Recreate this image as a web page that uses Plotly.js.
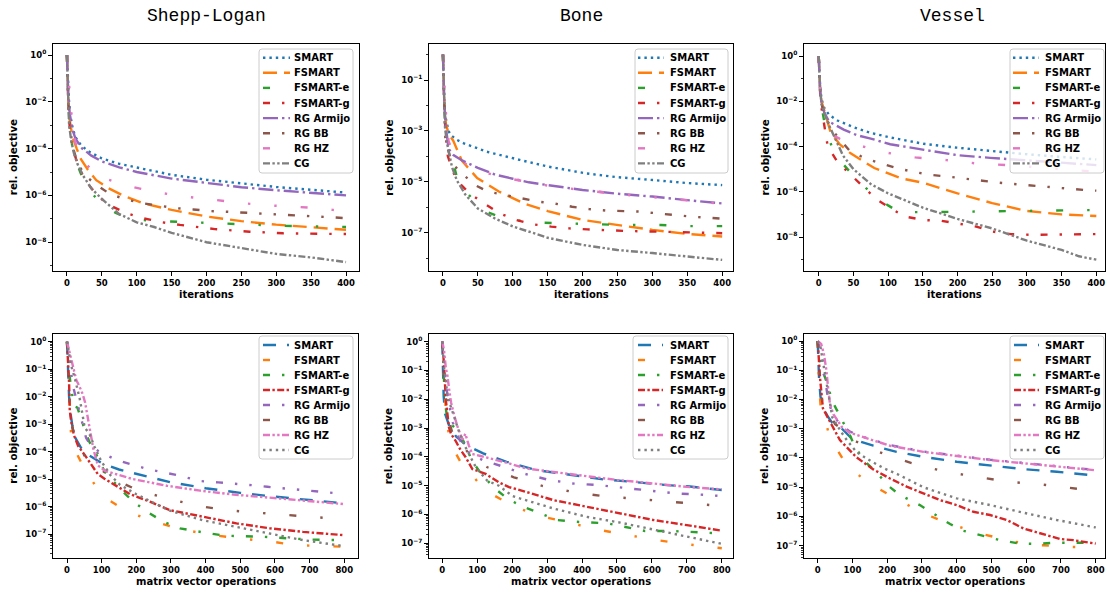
<!DOCTYPE html>
<html><head><meta charset="utf-8">
<script src="https://cdn.plot.ly/plotly-3.0.1.min.js"></script>
<style>html,body{margin:0;padding:0;background:#fff}#chart{width:1107px;height:592px}</style>
</head><body><div id="chart"></div>
<script>
// ---------------- labels ----------------
const methodNames = ['SMART','FSMART','FSMART-e','FSMART-g','RG Armijo','RG BB','RG HZ','CG'];
const methodColors = ['#1f77b4','#ff7f0e','#2ca02c','#d62728','#9467bd','#8c564b','#e377c2','#7f7f7f'];
const panelTitles = ['Shepp-Logan','Bone','Vessel'];
const iterTicks = [0,50,100,150,200,250,300,350,400];
const mvTicks = [0,100,200,300,400,500,600,700,800];

// ---------------- data: x and log10(rel. objective) ----------------
// Shepp-Logan, iterations
const slItSMART_x = [0,1,2,3,5,8,12,20,30,50,75,100,150,200,250,300,350,400];
const slItSMART_lg = [0,-1.0,-1.6,-2.0,-2.6,-3.1,-3.5,-3.85,-4.1,-4.42,-4.65,-4.8,-5.12,-5.33,-5.5,-5.64,-5.76,-5.88];
const slItFSMART_x = [0,1,2,4,8,14,20,30,42,60,80,110,150,200,250,300,350,400];
const slItFSMART_lg = [0,-1.2,-2.0,-2.8,-3.5,-4.0,-4.45,-4.9,-5.35,-5.7,-6.0,-6.35,-6.62,-6.9,-7.1,-7.25,-7.37,-7.47];
const slItFSMARTe_x = [0,1,2,4,8,15,23,35,50,70,88,120,176,219,262,310,350,400];
const slItFSMARTe_lg = [0,-1.3,-2.1,-3.0,-4.0,-4.7,-5.3,-5.9,-6.35,-6.75,-6.98,-7.08,-7.15,-7.19,-7.26,-7.3,-7.32,-7.35];
const slItFSMARTg_x = [0,1,2,4,8,16,25,43,60,86,110,137,162,212,262,310,360,400];
const slItFSMARTg_lg = [0,-1.4,-2.2,-3.1,-4.0,-4.7,-5.3,-6.0,-6.4,-6.77,-6.98,-7.15,-7.26,-7.44,-7.55,-7.62,-7.64,-7.65];
const slItArmijo_x = [0,1,2,4,8,12,20,35,50,75,100,150,200,250,300,350,400];
const slItArmijo_lg = [0,-1.2,-1.8,-2.5,-3.2,-3.55,-3.95,-4.3,-4.55,-4.8,-5.0,-5.28,-5.48,-5.65,-5.78,-5.9,-6.0];
const slItBB_x = [0,1,2,4,8,15,26,43,62,88,110,133,157,181,205,231,255,281,327,352,377,400];
const slItBB_lg = [0,-1.3,-2.1,-3.0,-3.9,-4.6,-5.16,-5.56,-5.95,-6.2,-6.34,-6.44,-6.55,-6.6,-6.67,-6.7,-6.74,-6.8,-6.87,-6.9,-6.95,-6.97];
const slItHZ_x = [0,2,5,8,15,25,46,88,129,169,215,254,298,347,381,400];
const slItHZ_lg = [0,-1.0,-1.85,-3.2,-4.1,-4.6,-5.2,-5.6,-5.87,-6.05,-6.2,-6.34,-6.44,-6.52,-6.62,-6.65];
const slItCG_x = [0,1,2,3,6,10,15,23,35,50,75,100,125,150,200,250,300,350,400];
const slItCG_lg = [0,-1.5,-2.3,-2.95,-3.66,-4.2,-4.65,-5.15,-5.7,-6.15,-6.8,-7.15,-7.35,-7.6,-8.0,-8.25,-8.5,-8.65,-8.85];

// Bone, iterations
const boItSMART_x = [0,1,2,4,8,11,20,30,63,110,150,205,250,301,350,400];
const boItSMART_lg = [0,-1.2,-1.9,-2.5,-3.0,-3.16,-3.35,-3.49,-3.82,-4.14,-4.4,-4.67,-4.82,-4.93,-5.05,-5.13];
const boItFSMART_x = [0,1,2,4,8,15,27,49,80,116,150,200,250,300,350,400];
const boItFSMART_lg = [0,-1.2,-2.0,-2.7,-3.1,-3.4,-4.17,-4.85,-5.38,-5.85,-6.15,-6.5,-6.7,-6.89,-7.05,-7.15];
const boItFSMARTe_x = [0,1,2,4,10,21,35,47,65,85,128,174,219,260,312,350,400];
const boItFSMARTe_lg = [0,-1.3,-2.1,-3.0,-3.75,-4.93,-5.45,-5.81,-6.2,-6.43,-6.6,-6.63,-6.67,-6.7,-6.7,-6.74,-6.74];
const boItFSMARTg_x = [0,1,2,4,7,19,38,60,81,105,129,155,181,207,260,330,400];
const boItFSMARTg_lg = [0,-1.3,-2.2,-3.2,-4.0,-4.93,-5.45,-5.87,-6.24,-6.5,-6.67,-6.76,-6.83,-6.87,-6.93,-6.97,-7.02];
const boItArmijo_x = [0,1,2,4,8,15,28,50,75,100,123,150,200,250,300,350,400];
const boItArmijo_lg = [0,-1.2,-2.0,-2.8,-3.7,-3.95,-4.17,-4.45,-4.72,-4.88,-5.02,-5.13,-5.32,-5.47,-5.58,-5.72,-5.85];
const boItBB_x = [0,1,3.5,13,27,46,65,89,113,137,159,185,209,233,281,305,356,400];
const boItBB_lg = [0,-1.3,-3.4,-4.27,-4.67,-5.13,-5.39,-5.52,-5.65,-5.78,-5.85,-5.98,-6.07,-6.13,-6.17,-6.24,-6.37,-6.45];
const boItHZ_x = [0,2,4,8,15,30,50,75,100,150,200,250,300,350,400];
const boItHZ_lg = [0,-1.0,-2.2,-3.4,-3.9,-4.25,-4.55,-4.75,-4.9,-5.15,-5.33,-5.48,-5.6,-5.73,-5.87];
const boItCG_x = [0,1,2,3,6,13,20,32,50,75,100,150,200,250,300,350,400];
const boItCG_lg = [0,-1.2,-2.2,-2.9,-3.5,-4.43,-4.95,-5.5,-6.05,-6.45,-6.75,-7.2,-7.48,-7.68,-7.8,-7.94,-8.07];

// Vessel, iterations
const veItSMART_x = [0,1,2,4,8,15,27,55,75,103,151,199,247,295,345,400];
const veItSMART_lg = [0,-0.8,-1.3,-1.9,-2.3,-2.6,-2.85,-3.2,-3.4,-3.6,-3.88,-4.05,-4.2,-4.33,-4.45,-4.57];
const veItFSMART_x = [0,1,2,4,8,17,30,46,80,118,150,200,250,300,350,400];
const veItFSMART_lg = [0,-0.9,-1.5,-2.0,-2.4,-3.35,-3.9,-4.3,-4.95,-5.4,-5.6,-6.07,-6.5,-6.85,-7.0,-7.07];
const veItFSMARTe_x = [0,1,2,4,8,19.6,30,45,60,78,100,116,157,203,247,295,339,382,400];
const veItFSMARTe_lg = [0,-0.9,-1.5,-2.2,-2.9,-4.1,-4.6,-5.12,-5.6,-6.14,-6.6,-6.9,-6.9,-6.88,-6.84,-6.82,-6.81,-6.81,-6.81];
const veItFSMARTg_x = [0,1,2,4,8,13,27,46,65,84,106,125,152,176,227,251,277,304,340,380,400];
const veItFSMARTg_lg = [0,-1.0,-1.6,-2.3,-3.0,-4.0,-4.68,-5.26,-5.8,-6.35,-6.78,-7.1,-7.25,-7.28,-7.54,-7.76,-7.87,-7.9,-7.88,-7.87,-7.87];
const veItArmijo_x = [0,1,2,4,8,15,36,55,75,103,151,199,247,295,345,400];
const veItArmijo_lg = [0,-0.9,-1.5,-2.1,-2.5,-2.9,-3.25,-3.5,-3.65,-3.9,-4.15,-4.38,-4.5,-4.6,-4.7,-4.82];
const veItBB_x = [0,1,2,4,8,20,44,67,88,113,140,164,186,212,236,260,286,310,334,360,382,400];
const veItBB_lg = [0,-0.9,-1.5,-2.1,-2.6,-3.3,-4.17,-4.53,-4.74,-4.96,-5.14,-5.26,-5.33,-5.41,-5.51,-5.6,-5.67,-5.74,-5.78,-5.88,-5.92,-5.95];
const veItHZ_x = [0,2,5,8,11,20,30,52,94,139,184,225,271,345,400];
const veItHZ_lg = [0,-1.38,-2.0,-2.27,-3.2,-3.5,-3.65,-3.9,-4.25,-4.48,-4.6,-4.74,-4.82,-5.0,-5.11];
const veItCG_x = [0,1,2,4,8,12,20,27,35,50,75,100,123,150,200,250,300,350,375,400];
const veItCG_lg = [0,-0.9,-1.5,-2.1,-2.5,-2.86,-3.4,-3.89,-4.4,-5.0,-5.66,-6.07,-6.35,-6.7,-7.2,-7.62,-8.16,-8.57,-8.85,-9.0];

// Shepp-Logan, matrix vector operations
const slMvSMART_x = [0,2,4,6,10,16,24,40,60,100,150,200,300,400,500,600,700,800];
const slMvSMART_lg = [0,-1.0,-1.6,-2.0,-2.6,-3.1,-3.5,-3.85,-4.1,-4.42,-4.65,-4.8,-5.12,-5.33,-5.5,-5.64,-5.76,-5.88];
const slMvFSMART_x = [0,4,8,12,25,41,51,70,91,125,157,171,200,243,330,422,500,594,655,744,800];
const slMvFSMART_lg = [0,-1.0,-2.5,-3.48,-4.0,-4.39,-4.63,-5.0,-5.42,-5.8,-6.03,-6.15,-6.3,-6.51,-6.83,-7.04,-7.16,-7.28,-7.4,-7.44,-7.46];
const slMvFSMARTe_x = [0,5,10,20,30,42,51,65,75,94,110,128,157,191,235,278,326,412,460,567,634,700,800];
const slMvFSMARTe_lg = [0,-1.0,-1.5,-2.35,-2.4,-2.9,-3.2,-3.66,-3.84,-4.36,-4.75,-5.0,-5.4,-5.82,-6.22,-6.55,-6.79,-6.98,-7.06,-7.1,-7.16,-7.2,-7.22];
const slMvFSMARTg_x = [0,3,6,8,12,20,32,56,89,110,133,152,181,239,297,393,489,585,681,800];
const slMvFSMARTg_lg = [0,-0.6,-1.5,-2.5,-2.9,-3.4,-3.79,-4.21,-4.82,-5.0,-5.18,-5.3,-5.54,-5.82,-6.13,-6.37,-6.61,-6.79,-6.92,-7.04];
const slMvArmijo_x = [0,8,15,25,32,45,55,65,80,102,142,195,237,316,384,436,480,533,578,629,680,725,786,800];
const slMvArmijo_lg = [0,-0.6,-1.5,-2.0,-2.3,-3.0,-3.5,-3.7,-3.9,-4.06,-4.3,-4.5,-4.65,-4.85,-5.07,-5.12,-5.16,-5.22,-5.28,-5.34,-5.4,-5.46,-5.52,-5.54];
const slMvBB_x = [0,4,8,17,27,40,57,90,123,160,211,299,374,460,547,629,720,800];
const slMvBB_lg = [0,-1.2,-2.48,-3.18,-3.48,-3.9,-4.3,-4.6,-4.88,-5.15,-5.44,-5.73,-5.97,-6.13,-6.22,-6.31,-6.39,-6.45];
const slMvHZ_x = [0,10,18,27,35,45,52,60,66,72,76,89,110,150,190,288,384,480,576,672,800];
const slMvHZ_lg = [0,-0.5,-0.9,-1.4,-1.6,-1.9,-2.2,-2.8,-3.2,-3.6,-3.9,-4.5,-4.7,-4.85,-5.0,-5.24,-5.42,-5.56,-5.66,-5.77,-5.91];
const slMvCG_x = [0,12,22,32,37,44,51,65,80,99,125,152,200,248,297,393,489,585,681,800];
const slMvCG_lg = [0,-0.87,-1.3,-1.78,-2.09,-2.6,-3.12,-3.36,-3.84,-4.35,-4.85,-5.2,-5.55,-5.85,-6.15,-6.5,-6.73,-6.98,-7.22,-7.44];

// Bone, matrix vector operations
const boMvSMART_x = [0,2,4,8,16,22,40,70,117,184,270,366,461,557,643,709,786,800];
const boMvSMART_lg = [0,-1.2,-1.9,-2.5,-2.8,-3.0,-3.3,-3.6,-3.88,-4.17,-4.46,-4.63,-4.78,-4.88,-4.98,-5.03,-5.13,-5.15];
const boMvFSMART_x = [0,5,10,19,35,53,67,90,115,150,190,200,270,375,451,530,614,706,790,800];
const boMvFSMART_lg = [0,-1.5,-2.4,-3.26,-3.8,-4.19,-4.36,-4.7,-5.06,-5.35,-5.61,-5.69,-6.02,-6.33,-6.54,-6.71,-6.89,-7.04,-7.15,-7.17];
const boMvFSMARTe_x = [0,4,8,15,25,43,55,70,86,115,153,190,239,287,327,380,475,580,643,705,786,800];
const boMvFSMARTe_lg = [0,-1.2,-2.14,-2.72,-2.85,-3.09,-3.3,-3.7,-4.15,-4.65,-5.12,-5.48,-5.77,-5.99,-6.19,-6.25,-6.31,-6.57,-6.57,-6.6,-6.66,-6.66];
const boMvFSMARTg_x = [0,5,10,19,25,38,52,67,86,124,162,191,222,318,413,509,604,700,786,800];
const boMvFSMARTg_lg = [0,-0.8,-2.0,-2.97,-3.2,-3.44,-3.75,-4.01,-4.42,-4.59,-4.88,-5.05,-5.15,-5.5,-5.73,-5.96,-6.19,-6.37,-6.54,-6.56];
const boMvArmijo_x = [0,5,10,19,30,45,57,80,119,167,191,224,299,370,447,528,604,671,755,800];
const boMvArmijo_lg = [0,-0.8,-1.47,-2.16,-2.8,-3.3,-3.55,-3.9,-4.13,-4.31,-4.42,-4.55,-4.78,-4.92,-4.98,-5.09,-5.17,-5.27,-5.32,-5.36];
const boMvBB_x = [0,5,10,24,33,45,57,76,100,129,205,284,370,452,533,623,705,786,800];
const boMvBB_lg = [0,-0.9,-1.8,-2.97,-3.32,-3.4,-3.55,-3.9,-4.15,-4.36,-4.71,-5.0,-5.21,-5.35,-5.44,-5.53,-5.61,-5.69,-5.7];
const boMvHZ_x = [0,5,10,15,19,25,35,45,58,66,76,86,110,181,239,300,400,500,600,700,800];
const boMvHZ_lg = [0,-0.3,-0.9,-1.2,-1.6,-2.1,-2.6,-3.0,-3.4,-3.2,-3.6,-3.9,-3.97,-4.19,-4.4,-4.5,-4.65,-4.8,-4.92,-5.04,-5.13];
const boMvCG_x = [0,5,10,14,19,28,38,50,57,79,96,129,162,200,222,318,413,509,604,700,790,800];
const boMvCG_lg = [0,-0.9,-1.3,-1.8,-2.05,-2.4,-2.74,-3.2,-3.44,-3.95,-4.36,-4.83,-5.0,-5.35,-5.44,-5.79,-6.08,-6.28,-6.52,-6.77,-7.0,-7.02];

// Vessel, matrix vector operations
const veMvSMART_x = [0,2,4,8,16,30,42,64,95,112,160,227,304,400,496,592,688,784,800];
const veMvSMART_lg = [0,-0.8,-1.3,-1.9,-2.3,-2.6,-2.8,-2.93,-3.3,-3.4,-3.58,-3.79,-3.96,-4.13,-4.26,-4.38,-4.47,-4.58,-4.6];
const veMvFSMART_x = [0,3,9,20,32,50,77,110,143,190,227,299,381,467,563,640,727,774,800];
const veMvFSMART_lg = [0,-1.3,-2.33,-2.6,-3.18,-3.6,-4.12,-4.5,-4.84,-5.15,-5.38,-5.87,-6.26,-6.58,-6.86,-6.98,-7.04,-7.06,-7.07];
const veMvFSMARTe_x = [0,5,10,18,28,40,55,66,74,85,103,131,170,203,237,294,333,381,419,467,525,577,630,678,760,800];
const veMvFSMARTe_lg = [0,-0.6,-0.9,-1.13,-1.45,-2.0,-2.36,-2.56,-2.8,-3.01,-3.5,-4.07,-4.5,-4.95,-5.27,-5.61,-5.9,-6.26,-6.49,-6.64,-6.81,-6.92,-6.94,-6.9,-6.89,-6.9];
const veMvFSMARTg_x = [0,3,7,15,25,35,64,112,160,208,256,304,352,400,448,496,544,592,640,697,736,793,800];
const veMvFSMARTg_lg = [0,-0.7,-1.3,-2.3,-2.55,-2.75,-3.39,-3.98,-4.39,-4.7,-4.98,-5.21,-5.44,-5.61,-5.84,-5.95,-6.12,-6.41,-6.58,-6.77,-6.81,-6.92,-6.93];
const veMvArmijo_x = [0,5,10,15,20,25,30,40,55,70,93,141,208,304,400,496,592,688,793,800];
const veMvArmijo_lg = [0,-0.2,-0.5,-1.0,-1.3,-1.6,-2.0,-2.4,-2.7,-2.9,-3.1,-3.32,-3.56,-3.78,-3.92,-4.06,-4.17,-4.29,-4.4,-4.41];
const veMvBB_x = [0,5,13,23,35,50,80,105,141,218,294,381,467,544,640,721,798,800];
const veMvBB_lg = [0,-1.0,-2.1,-2.16,-2.5,-2.84,-3.1,-3.4,-3.63,-3.98,-4.26,-4.5,-4.66,-4.81,-4.9,-5.02,-5.12,-5.13];
const veMvHZ_x = [0,10,18,25,30,35,45,55,70,93,141,208,304,400,496,592,688,793,800];
const veMvHZ_lg = [0,-0.1,-0.45,-1.0,-1.6,-2.13,-2.5,-2.7,-2.95,-3.14,-3.33,-3.58,-3.79,-3.93,-4.07,-4.18,-4.3,-4.41,-4.42];
const veMvCG_x = [0,8,13,20,28,35,42,56,70,85,112,152,190,229,304,400,496,592,688,798,800];
const veMvCG_lg = [0,-0.2,-0.56,-1.1,-1.59,-2.1,-2.61,-2.9,-3.15,-3.41,-3.8,-4.1,-4.35,-4.55,-5.0,-5.38,-5.61,-5.87,-6.12,-6.37,-6.38];

// ---------------- styles ----------------
const LW = 2.4;
const topDash = ['2.4px,4px','14px,7px','7px,24px,2.4px,24px','7px,12px,2.4px,12px',
  '15px,4px,2.4px,4px','7px,12px,2.4px,12px,2.4px,12px','7px,24px,2.4px,24px,2.4px,24px',
  '7px,2.4px,2.4px,2.4px,2.4px,2.4px'];
const botDash = ['13px,11px','7px,24px,2.4px,24px','7px,12px,2.4px,12px','7px,2.4px,2.4px,2.4px',
  '7px,12px,2.4px,12px,2.4px,12px','7px,24px,2.4px,24px,2.4px,24px','7px,2.4px,2.4px,2.4px,2.4px,2.4px',
  '2.4px,4px'];

const W = 1107, H = 592;
const fx = p => p / W, fy = p => 1 - p / H;

const bottomMinor = [];
for (let n = -9; n <= 0; n++) for (let k = 2; k <= 9; k++) bottomMinor.push(k * Math.pow(10, n));

const panels = [
  {px:[53,359], py:[44,271], xr:[-20,418.6], yr:[-9.23,0.47], major:[0,-2,-4,-6,-8], minorOdd:[-1,-3,-5,-7,-9],
   ticks:iterTicks, dash:topDash, leg:{bx:[259,353], by:[49,173], sx:[263,290], tx:292, ry0:57.7, dy:15.1},
   xlab:'iterations', xlabY:295, ylabX:12.7,
   series:[[slItSMART_x,slItSMART_lg],[slItFSMART_x,slItFSMART_lg],[slItFSMARTe_x,slItFSMARTe_lg],[slItFSMARTg_x,slItFSMARTg_lg],
           [slItArmijo_x,slItArmijo_lg],[slItBB_x,slItBB_lg],[slItHZ_x,slItHZ_lg],[slItCG_x,slItCG_lg]]},
  {px:[429,733], py:[44,271], xr:[-20,415.5], yr:[-8.505,0.415], major:[-1,-3,-5,-7], minorOdd:[0,-2,-4,-6,-8],
   ticks:iterTicks, dash:topDash, leg:{bx:[635,728], by:[49,173], sx:[638,664], tx:668, ry0:57.7, dy:15.1},
   xlab:'iterations', xlabY:295, ylabX:388.3,
   series:[[boItSMART_x,boItSMART_lg],[boItFSMART_x,boItFSMART_lg],[boItFSMARTe_x,boItFSMARTe_lg],[boItFSMARTg_x,boItFSMARTg_lg],
           [boItArmijo_x,boItArmijo_lg],[boItBB_x,boItBB_lg],[boItHZ_x,boItHZ_lg],[boItCG_x,boItCG_lg]]},
  {px:[804,1105], py:[44,271], xr:[-21.2,412.5], yr:[-9.5,0.53], major:[0,-2,-4,-6,-8], minorOdd:[-1,-3,-5,-7,-9],
   ticks:iterTicks, dash:topDash, leg:{bx:[1010,1104], by:[49,173], sx:[1013,1039], tx:1043, ry0:57.7, dy:15.1},
   xlab:'iterations', xlabY:295, ylabX:764,
   series:[[veItSMART_x,veItSMART_lg],[veItFSMART_x,veItFSMART_lg],[veItFSMARTe_x,veItFSMARTe_lg],[veItFSMARTg_x,veItFSMARTg_lg],
           [veItArmijo_x,veItArmijo_lg],[veItBB_x,veItBB_lg],[veItHZ_x,veItHZ_lg],[veItCG_x,veItCG_lg]]},
  {px:[53,358], py:[334,558], xr:[-40.4,839.6], yr:[-7.87,0.28], major:[0,-1,-2,-3,-4,-5,-6,-7], minorOdd:null,
   ticks:mvTicks, dash:botDash, leg:{bx:[259,353], by:[336,459], sx:[263,289], tx:292, ry0:345, dy:15},
   xlab:'matrix vector operations', xlabY:581.7, ylabX:12.7,
   series:[[slMvSMART_x,slMvSMART_lg],[slMvFSMART_x,slMvFSMART_lg],[slMvFSMARTe_x,slMvFSMARTe_lg],[slMvFSMARTg_x,slMvFSMARTg_lg],
           [slMvArmijo_x,slMvArmijo_lg],[slMvBB_x,slMvBB_lg],[slMvHZ_x,slMvHZ_lg],[slMvCG_x,slMvCG_lg]]},
  {px:[429,733], py:[334,558], xr:[-38,832], yr:[-7.51,0.267], major:[0,-1,-2,-3,-4,-5,-6,-7], minorOdd:null,
   ticks:mvTicks, dash:botDash, leg:{bx:[633,728], by:[336,459], sx:[638,663], tx:668, ry0:345, dy:15},
   xlab:'matrix vector operations', xlabY:581.7, ylabX:388.3,
   series:[[boMvSMART_x,boMvSMART_lg],[boMvFSMART_x,boMvFSMART_lg],[boMvFSMARTe_x,boMvFSMARTe_lg],[boMvFSMARTg_x,boMvFSMARTg_lg],
           [boMvArmijo_x,boMvArmijo_lg],[boMvBB_x,boMvBB_lg],[boMvHZ_x,boMvHZ_lg],[boMvCG_x,boMvCG_lg]]},
  {px:[804,1105], py:[334,558], xr:[-39.4,826.7], yr:[-7.42,0.24], major:[0,-1,-2,-3,-4,-5,-6,-7], minorOdd:null,
   ticks:mvTicks, dash:botDash, leg:{bx:[1010,1104], by:[336,459], sx:[1014,1039], tx:1043, ry0:345, dy:15},
   xlab:'matrix vector operations', xlabY:581.7, ylabX:764,
   series:[[veMvSMART_x,veMvSMART_lg],[veMvFSMART_x,veMvFSMART_lg],[veMvFSMARTe_x,veMvFSMARTe_lg],[veMvFSMARTg_x,veMvFSMARTg_lg],
           [veMvArmijo_x,veMvArmijo_lg],[veMvBB_x,veMvBB_lg],[veMvHZ_x,veMvHZ_lg],[veMvCG_x,veMvCG_lg]]}
];

const FONT = 'DejaVu Sans, Liberation Sans, sans-serif';
const supText = e => '<b>10<sup>' + (e < 0 ? '\u2212' + (-e) : String(e)) + '</sup></b>';

const traces = [];
const layout = {
  width: W, height: H, margin: {l:0, r:0, t:0, b:0},
  paper_bgcolor: '#fff', plot_bgcolor: '#fff', showlegend: false,
  shapes: [], annotations: []
};

panels.forEach((p, i) => {
  const s = i === 0 ? '' : String(i + 1);
  p.series.forEach((sr, j) => {
    traces.push({
      x: sr[0], y: sr[1].map(v => Math.pow(10, v)),
      xaxis: 'x' + s, yaxis: 'y' + s, type: 'scatter', mode: 'lines',
      name: methodNames[j], hoverinfo: 'skip', showlegend: false,
      line: {color: methodColors[j], width: LW, dash: p.dash[j]}
    });
  });
  const axCommon = {
    showline: true, mirror: true, linecolor: '#000', linewidth: 1,
    ticks: 'outside', ticklen: 4, tickwidth: 1, tickcolor: '#000',
    showgrid: false, zeroline: false, fixedrange: true,
    tickfont: {family: FONT, size: 8.5, color: '#000'}
  };
  layout['xaxis' + s] = Object.assign({}, axCommon, {
    domain: [fx(p.px[0]), fx(p.px[1])], range: p.xr, anchor: 'y' + s,
    tickmode: 'array', tickvals: p.ticks, ticktext: p.ticks.map(t => '<b>' + t + '</b>')
  });
  const minorVals = p.minorOdd ? p.minorOdd.map(e => Math.pow(10, e)) : bottomMinor;
  layout['yaxis' + s] = Object.assign({}, axCommon, {
    domain: [fy(p.py[1]), fy(p.py[0])], type: 'log', range: p.yr, anchor: 'x' + s,
    tickmode: 'array', tickvals: p.major.map(e => Math.pow(10, e)), ticktext: p.major.map(supText),
    minor: {tickmode: 'array', tickvals: minorVals, ticks: 'outside', ticklen: 2.2, tickwidth: 0.8, tickcolor: '#000', showgrid: false}
  });

  // legend box (rounded)
  const L = p.leg;
  const x0 = fx(L.bx[0]), x1 = fx(L.bx[1]), yT = fy(L.by[0]), yB = fy(L.by[1]);
  const rx = 3 / W, ry = 3 / H;
  layout.shapes.push({
    type: 'path', xref: 'paper', yref: 'paper', layer: 'above',
    path: `M ${x0+rx},${yT} L ${x1-rx},${yT} Q ${x1},${yT} ${x1},${yT-ry} L ${x1},${yB+ry} Q ${x1},${yB} ${x1-rx},${yB} ` +
          `L ${x0+rx},${yB} Q ${x0},${yB} ${x0},${yB+ry} L ${x0},${yT-ry} Q ${x0},${yT} ${x0+rx},${yT} Z`,
    fillcolor: 'rgba(255,255,255,0.8)', line: {color: '#cccccc', width: 1}
  });
  methodNames.forEach((nm, j) => {
    const ry0 = L.ry0 + j * L.dy;
    layout.shapes.push({
      type: 'line', xref: 'paper', yref: 'paper', layer: 'above',
      x0: fx(L.sx[0]), x1: fx(L.sx[1]), y0: fy(ry0), y1: fy(ry0),
      line: {color: methodColors[j], width: LW, dash: p.dash[j]}
    });
    layout.annotations.push({
      xref: 'paper', yref: 'paper', x: fx(L.tx), y: fy(ry0), xanchor: 'left', yanchor: 'middle',
      showarrow: false, text: '<b>' + nm + '</b>', font: {family: FONT, size: 10, color: '#000'}
    });
  });

  // axis titles
  const cx = (p.px[0] + p.px[1]) / 2, cy = (p.py[0] + p.py[1]) / 2;
  layout.annotations.push({
    xref: 'paper', yref: 'paper', x: fx(cx), y: fy(p.xlabY), xanchor: 'center', yanchor: 'middle',
    showarrow: false, text: '<b>' + p.xlab + '</b>', font: {family: FONT, size: 10, color: '#000'}
  });
  layout.annotations.push({
    xref: 'paper', yref: 'paper', x: fx(p.ylabX), y: fy(cy), xanchor: 'center', yanchor: 'middle',
    showarrow: false, textangle: -90, text: '<b>rel. objective</b>', font: {family: FONT, size: 10.3, color: '#000'}
  });
  if (i < 3) {
    layout.annotations.push({
      xref: 'paper', yref: 'paper', x: fx(i === 2 ? 952 : cx), y: fy(16), xanchor: 'center', yanchor: 'middle',
      showarrow: false, text: panelTitles[i], font: {family: 'Liberation Mono, Courier New, monospace', size: 18, color: '#000'}
    });
  }
});

Plotly.newPlot('chart', traces, layout, {staticPlot: true, displayModeBar: false});
</script></body></html>
